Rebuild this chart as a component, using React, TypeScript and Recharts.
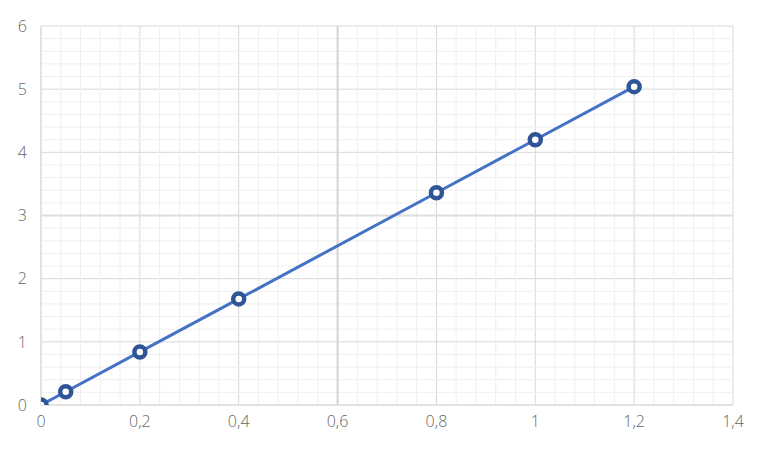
import { ComposedChart, Line, XAxis, YAxis, CartesianGrid, ReferenceLine } from "recharts";

const xValues = [0, 0.05, 0.2, 0.4, 0.8, 1, 1.2];
const yValues = [0, 0.21, 0.84, 1.68, 3.36, 4.2, 5.04];
const xTicks = [0, 0.2, 0.4, 0.6, 0.8, 1, 1.2, 1.4];
const yTicks = [0, 1, 2, 3, 4, 5, 6];
const xMinor = [0.04, 0.08, 0.12, 0.16, 0.24, 0.28, 0.32, 0.36, 0.44, 0.48, 0.52, 0.56, 0.64, 0.68, 0.72, 0.76, 0.84, 0.88, 0.92, 0.96, 1.04, 1.08, 1.12, 1.16, 1.24, 1.28, 1.32, 1.36];
const yMinor = [0.2, 0.4, 0.6, 0.8, 1.2, 1.4, 1.6, 1.8, 2.2, 2.4, 2.6, 2.8, 3.2, 3.4, 3.6, 3.8, 4.2, 4.4, 4.6, 4.8, 5.2, 5.4, 5.6, 5.8];

const data = xValues.map((x, i) => ({ x, y: yValues[i] }));

const fmt = (v: number) => String(v).replace(".", ",");
const tickStyle = { fill: "#666666", fontSize: 16, fontFamily: "Open Sans, sans-serif", fontWeight: 300 };

function Marker(props: any) {
  const { cx, cy } = props;
  if (cx == null || cy == null) return null;
  return <circle cx={cx} cy={cy} r={5.5} fill="#ffffff" stroke="#2F5597" strokeWidth={4.5} />;
}

export default function App() {
  return (
    <div style={{ width: 769, height: 453, background: "#fff" }}>
      <style>{`body{margin:0}`}</style>
      <ComposedChart width={769} height={453} data={data} margin={{ top: 26, right: 36, left: 0, bottom: 0 }}>
        {xMinor.map((v) => (
          <ReferenceLine key={"xm" + v} x={v} stroke="#efefef" strokeWidth={1} />
        ))}
        {yMinor.map((v) => (
          <ReferenceLine key={"ym" + v} y={v} stroke="#efefef" strokeWidth={1} />
        ))}
        <CartesianGrid stroke="#d9d9d9" />
        <ReferenceLine x={0.6} stroke="#d4d4d4" strokeWidth={2} />
        <ReferenceLine y={3} stroke="#dedede" strokeWidth={2} />
        <XAxis
          dataKey="x"
          type="number"
          domain={[0, 1.4]}
          ticks={xTicks}
          tickFormatter={fmt}
          allowDataOverflow
          height={48}
          tickSize={0}
          tickMargin={11}
          axisLine={{ stroke: "#d9d9d9" }}
          tick={tickStyle}
          interval={0}
        />
        <YAxis
          type="number"
          domain={[0, 6]}
          ticks={yTicks}
          allowDataOverflow
          width={41}
          tickSize={0}
          tickMargin={14}
          axisLine={{ stroke: "#d9d9d9" }}
          tick={tickStyle}
          interval={0}
        />
        <Line
          dataKey="y"
          type="linear"
          stroke="#4472C4"
          strokeWidth={3}
          dot={<Marker />}
          activeDot={false}
          isAnimationActive={false}
        />
      </ComposedChart>
    </div>
  );
}
